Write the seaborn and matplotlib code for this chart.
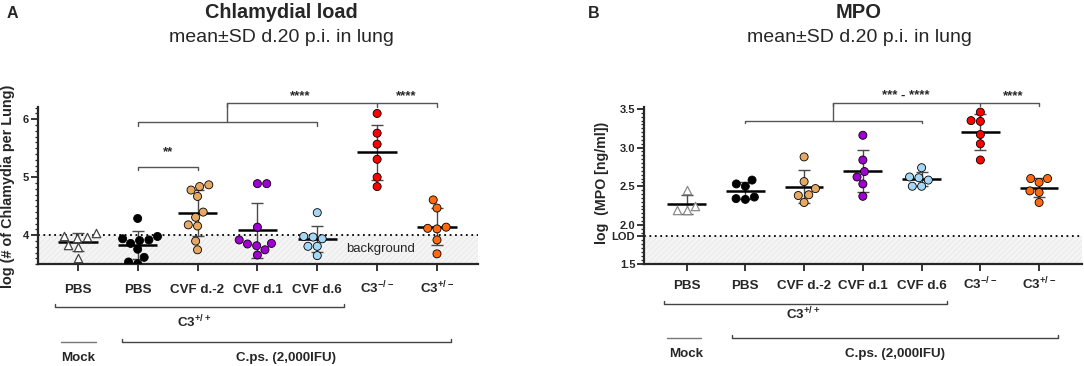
import numpy as np
import pandas as pd
import matplotlib
matplotlib.use('Agg')
import matplotlib.pyplot as plt
import matplotlib.transforms as mtransforms
from matplotlib.ticker import MultipleLocator
import seaborn as sns

# ─────────────────────────── Data ────────────────────────────────────────────

GROUPS = ['mock_pbs', 'pbs', 'cvf_m2', 'cvf_1', 'cvf_6', 'c3_ko', 'c3_het']
TICK_LABELS = ['PBS', 'PBS', 'CVF d.-2', 'CVF d.1', 'CVF d.6',
               r'C3$^{-/-}$', r'C3$^{+/-}$']
COLORS = ['white', '#000000', '#E6A862', '#A000D2', '#A6D6F6', '#FF0000', '#FF6A10']

# Panel A: log (# of Chlamydia per Lung)
chl_mock_pbs = [3.955, 3.97, 3.98, 4.04, 3.83, 3.79, 3.60]
chl_pbs = [4.29, 3.98, 3.94, 3.92, 3.91, 3.86, 3.76, 3.62, 3.54, 3.51]
chl_cvf_m2 = [4.87, 4.84, 4.78, 4.67, 4.40, 4.31, 4.18, 4.16, 3.90, 3.75]
chl_cvf_1 = [4.89, 4.89, 4.14, 3.92, 3.86, 3.85, 3.82, 3.75, 3.66]
chl_cvf_6 = [4.39, 3.98, 3.97, 3.94, 3.81, 3.81, 3.65]
chl_c3_ko = [6.10, 5.76, 5.57, 5.31, 5.00, 4.84]
chl_c3_het = [4.61, 4.47, 4.14, 4.12, 4.11, 3.92, 3.68]

# Panel B: log (MPO [ng/ml])
mpo_mock_pbs = [2.45, 2.25, 2.19, 2.19]
mpo_pbs = [2.58, 2.53, 2.50, 2.36, 2.34, 2.33]
mpo_cvf_m2 = [2.88, 2.56, 2.47, 2.39, 2.38, 2.29]
mpo_cvf_1 = [3.16, 2.84, 2.69, 2.62, 2.53, 2.37]
mpo_cvf_6 = [2.74, 2.62, 2.61, 2.58, 2.50, 2.50]
mpo_c3_ko = [3.46, 3.35, 3.34, 3.17, 3.05, 2.84]
mpo_c3_het = [2.60, 2.60, 2.55, 2.44, 2.42, 2.29]

CHL_BACKGROUND = 4.0
MPO_LOD = 1.85

# ─────────────────────────── Style ───────────────────────────────────────────

sns.set_style('ticks')
plt.rcParams['font.family'] = ['Liberation Sans', 'DejaVu Sans']
plt.rcParams['mathtext.fontset'] = 'custom'
plt.rcParams['mathtext.rm'] = 'Liberation Sans:bold'
plt.rcParams['mathtext.bf'] = 'Liberation Sans:bold'
plt.rcParams['mathtext.default'] = 'bf'
plt.rcParams['hatch.linewidth'] = 0.5

W, H = 1084, 366
LAB_FS = 9.6
STAR_FS = 9.5
fig = plt.figure(figsize=(W / 100, H / 100), dpi=100)


def px_ax(x0, x1, ybot, ytop):
    return fig.add_axes([x0 / W, 1 - ybot / H, (x1 - x0) / W, (ybot - ytop) / H])


def to_frame(values):
    rows = []
    for g, vals in zip(GROUPS, values):
        rows += [(g, v) for v in vals]
    return pd.DataFrame(rows, columns=['group', 'value'])


def draw_panel(ax, df, tri_edge):
    mock = df[df['group'] == 'mock_pbs']
    rest = df[df['group'] != 'mock_pbs']
    sns.swarmplot(data=rest, x='group', y='value', hue='group', order=GROUPS,
                  hue_order=GROUPS, palette=dict(zip(GROUPS, COLORS)),
                  size=5.8, edgecolor='black', linewidth=0.6, legend=False,
                  ax=ax, zorder=3)
    sns.swarmplot(data=mock, x='group', y='value', order=GROUPS, color='white',
                  marker='^', size=6, edgecolor=tri_edge, linewidth=0.9,
                  ax=ax, zorder=3)
    stats = df.groupby('group', sort=False)['value'].agg(['mean', 'std'])
    for i, g in enumerate(GROUPS):
        m, s = stats.loc[g, 'mean'], stats.loc[g, 'std']
        ax.errorbar(i, m, yerr=s, color='#4a4a4a', lw=1.0, capsize=4,
                    capthick=1.0, zorder=2)
        ax.hlines(m, i - 0.33, i + 0.33, color='black', lw=1.8, zorder=2.5)


def style_axes(ax, xlim, ylim, major, minor):
    ax.set_xlim(*xlim)
    ax.set_ylim(*ylim)
    sns.despine(ax=ax)
    for sp in ['left', 'bottom']:
        ax.spines[sp].set_linewidth(1.6)
    ax.set_xlabel('')
    ax.set_ylabel('')
    ax.set_xticks(range(len(GROUPS)))
    ax.set_xticklabels([])
    ax.yaxis.set_major_locator(MultipleLocator(major))
    ax.yaxis.set_minor_locator(MultipleLocator(minor))
    ax.tick_params(axis='x', length=5, width=1.3, direction='out')
    ax.tick_params(axis='y', which='major', length=5, width=1.3, pad=1.5)
    ax.tick_params(axis='y', which='minor', length=2.5, width=0.9, left=True)
    ax.set_facecolor('none')


def bold_yticks(ax):
    for t in ax.get_yticklabels():
        t.set_fontweight('bold')


def bracket(ax, x0, x1, y, drop, color='#555555'):
    ax.plot([x0, x0, x1, x1], [y - drop, y, y, y - drop], color=color,
            lw=1.0, clip_on=False, zorder=4)


def group_labels(ax, rows):
    tr = mtransforms.blended_transform_factory(ax.transData, fig.transFigure)
    (lab_y, br_y, c3_y, mock_y, mock_lab_y, br, c3x, mockl, cps, cpsx) = rows
    for i, lab in enumerate(TICK_LABELS):
        ax.text(i, 1 - lab_y / H, lab, transform=tr, ha='center', va='baseline',
                fontsize=LAB_FS, fontweight='bold')
    yb = 1 - br_y / H
    ax.plot([br[0], br[0], br[1], br[1]], [yb + 0.008, yb, yb, yb + 0.008],
            transform=tr, color='#444444', lw=1.0, clip_on=False)
    ax.text(c3x, 1 - c3_y / H, r'C3$^{+/+}$', transform=tr, ha='center',
            va='baseline', fontsize=LAB_FS, fontweight='bold')
    ym = 1 - mock_y / H
    ax.plot(mockl, [ym, ym], transform=tr, color='#777777', lw=1.0, clip_on=False)
    ax.plot([cps[0], cps[0], cps[1], cps[1]], [ym + 0.008, ym, ym, ym + 0.008],
            transform=tr, color='#444444', lw=1.0, clip_on=False)
    ax.text(0, 1 - mock_lab_y / H, 'Mock', transform=tr, ha='center',
            va='center', fontsize=LAB_FS, fontweight='bold')
    ax.text(cpsx, 1 - mock_lab_y / H, 'C.ps. (2,000IFU)', transform=tr,
            ha='center', va='center', fontsize=LAB_FS, fontweight='bold')


# ─────────────────────────── Panel A ─────────────────────────────────────────

axA = px_ax(37.7, 478.3, 264.3, 106.5)
dfA = to_frame([chl_mock_pbs, chl_pbs, chl_cvf_m2, chl_cvf_1, chl_cvf_6,
                chl_c3_ko, chl_c3_het])
axA.axhspan(3.5, CHL_BACKGROUND, facecolor='#f4f4f4', edgecolor='#e6e6e6',
            hatch='//////', lw=0, zorder=0)
axA.axhline(CHL_BACKGROUND, color='black', ls=(0, (1.0, 2.0)), lw=1.3, zorder=1)
draw_panel(axA, dfA, '#444444')
style_axes(axA, (-0.67, 6.69), (3.5, 6.22), 1, 0.1)
axA.tick_params(axis='y', labelsize=8)
bold_yticks(axA)
axA.text(5.05, 3.76, 'background', ha='center', va='center', fontsize=9.5)

bracket(axA, 1, 2, 5.18, 0.06)
axA.text(1.5, 5.44, '**', ha='center', va='center', fontsize=STAR_FS,
         fontweight='bold')
bracket(axA, 1, 4, 5.95, 0.06)
axA.plot([2.5, 2.5], [5.95, 6.275], color='#555555', lw=1.0, clip_on=False)
bracket(axA, 2.5, 6, 6.275, 0.06)
axA.plot([5, 5], [6.275, 6.22], color='#555555', lw=1.0, clip_on=False)
axA.text(3.72, 6.29, '****', ha='center', va='bottom', fontsize=STAR_FS,
         fontweight='bold')
axA.text(5.48, 6.29, '****', ha='center', va='bottom', fontsize=STAR_FS,
         fontweight='bold')

group_labels(axA, (293, 307, 327, 341.6, 358, (-0.38, 4.44), 1.94,
                   (-0.28, 0.31), (0.74, 6.24), 3.47))

fig.text(12 / W, 1 - 13 / H, 'A', ha='center', va='center', fontsize=11.5,
         fontweight='bold')
fig.text(281 / W, 1 - 13 / H, 'Chlamydial load', ha='center', va='center',
         fontsize=14.3, fontweight='bold')
fig.text(281 / W, 1 - 37 / H, 'mean±SD d.20 p.i. in lung', ha='center',
         va='center', fontsize=14)
fig.text(8.5 / W, 1 - 186 / H, 'log (# of Chlamydia per Lung)', rotation=90,
         ha='center', va='center', fontsize=10.4, fontweight='bold')

# ─────────────────────────── Panel B ─────────────────────────────────────────

axB = px_ax(644.3, 1082, 263.5, 106.7)
dfB = to_frame([mpo_mock_pbs, mpo_pbs, mpo_cvf_m2, mpo_cvf_1, mpo_cvf_6,
                mpo_c3_ko, mpo_c3_het])
axB.axhspan(1.5, MPO_LOD, facecolor='#f4f4f4', edgecolor='#e6e6e6',
            hatch='//////', lw=0, zorder=0)
axB.axhline(MPO_LOD, color='black', ls=(0, (1.0, 2.0)), lw=1.3, zorder=1)
draw_panel(axB, dfB, '#8a8a8a')
style_axes(axB, (-0.72, 6.73), (1.5, 3.53), 0.5, 0.05)
axB.set_yticks([1.5, MPO_LOD, 2.0, 2.5, 3.0, 3.5])
axB.set_yticklabels(['1.5', 'LOD', '2.0', '2.5', '3.0', '3.5'])
axB.tick_params(axis='y', labelsize=8)
bold_yticks(axB)

bracket(axB, 1, 4, 3.35, 0.03)
axB.plot([2.5, 2.5], [3.35, 3.574], color='#555555', lw=1.0, clip_on=False)
bracket(axB, 2.5, 6, 3.574, 0.035)
axB.plot([5, 5], [3.574, 3.535], color='#555555', lw=1.0, clip_on=False)
axB.text(3.73, 3.59, '*** - ****', ha='center', va='bottom', fontsize=STAR_FS,
         fontweight='bold')
axB.text(5.55, 3.59, '****', ha='center', va='bottom', fontsize=STAR_FS,
         fontweight='bold')

group_labels(axB, (289, 303.7, 319.4, 337.5, 354, (-0.38, 4.44), 1.98,
                   (-0.33, 0.25), (0.77, 6.33), 3.55))

fig.text(594 / W, 1 - 13 / H, 'B', ha='center', va='center', fontsize=11.5,
         fontweight='bold')
fig.text(859 / W, 1 - 13 / H, 'MPO', ha='center', va='center',
         fontsize=14.5, fontweight='bold')
fig.text(859 / W, 1 - 37 / H, 'mean±SD d.20 p.i. in lung', ha='center',
         va='center', fontsize=14)
fig.text(601.7 / W, 1 - 183 / H, 'log  (MPO [ng/ml])', rotation=90,
         ha='center', va='center', fontsize=10.2, fontweight='bold')

fig.savefig('out.png', dpi=100, facecolor='white')
